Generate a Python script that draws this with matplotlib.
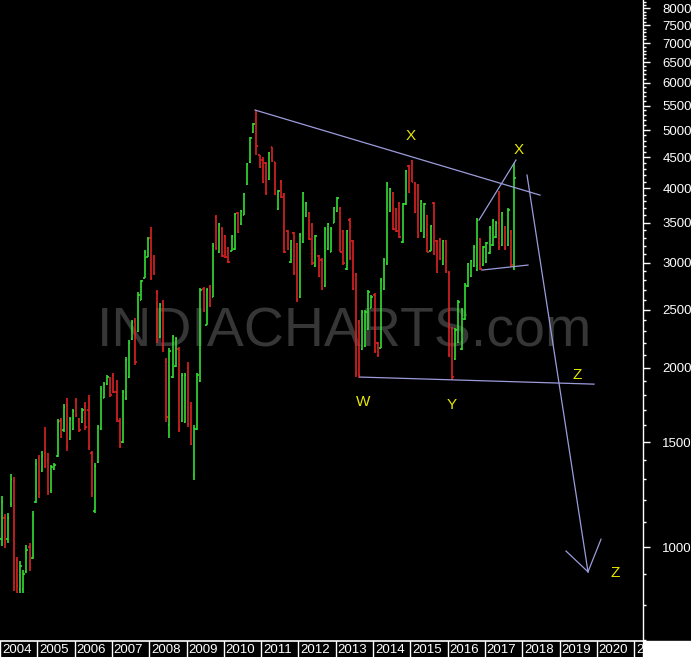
'''
Monthly OHLC bar chart with hand-drawn pattern annotations (log scale).
'''

import matplotlib

matplotlib.use("Agg")
import matplotlib.pyplot as plt
import numpy as np
from matplotlib.patches import Rectangle
from matplotlib.ticker import FixedLocator, FuncFormatter, NullFormatter

plt.rcParams["font.family"] = ["Liberation Sans", "DejaVu Sans"]

START_YEAR = 2004

# monthly bars from Jan 2004
BAR_HIGH = [
    1218, 1136, 1140, 1325, 1310, 962, 947, 915, 1008, 1016,
    1150, 1404, 1427, 1448, 1590, 1440, 1373, 1384, 1640, 1646,
    1738, 1775, 1652, 1704, 1775, 1646, 1711, 1750, 1799, 1450,
    1384, 1602, 1862, 1891, 1940, 1930, 1958, 1906, 1646, 1834,
    2080, 2225, 2403, 2420, 2677, 2805, 3150, 3310, 3440, 3090,
    2699, 2567, 2597, 2075, 2155, 2268, 2250, 2165, 1958, 1958,
    2044, 1750, 1602, 1958, 2720, 2730, 2720, 2752, 3235, 3606,
    3500, 3440, 3338, 3187, 3338, 3636, 3650, 3677, 3927, 4408,
    4874, 5145, 5410, 4547, 4500, 4430, 4600, 4690, 4430, 3972,
    4128, 3927, 3403, 3274, 3380, 3240, 3365, 3942, 3793, 3650,
    3490, 3338, 3090, 3048, 3440, 3500, 3440, 3720, 3865, 3720,
    3403, 3403, 3565, 3274, 2882, 2403, 2498, 2498, 2699, 2647,
    2668, 2208, 2826, 3048, 4090, 4000, 3942, 3706, 3793, 3780,
    4291, 4374, 4460, 4090, 4070, 3821, 3780, 3606, 3470, 3793,
    3274, 3300, 3274, 3274, 2900, 2335, 2330, 2600, 2520, 2770,
    3000, 3030, 3210, 3560, 3300, 3200, 3250, 3450, 3550, 3520,
    3950, 3650, 3450, 3700, 3400, 4400,
]
BAR_LOW = [
    1004, 996, 1016, 1167, 844, 838, 838, 838, 904, 911,
    955, 1185, 1208, 1336, 1357, 1223, 1232, 1347, 1416, 1524,
    1560, 1450, 1512, 1572, 1652, 1560, 1614, 1572, 1455, 1213,
    1140, 1384, 1572, 1777, 1869, 1786, 1811, 1620, 1466, 1494,
    1764, 1921, 2225, 2020, 2295, 2597, 2826, 3060, 2805, 2860,
    2200, 2243, 2120, 1620, 1524, 1921, 2005, 1560, 1620, 1614,
    1590, 1483, 1296, 1572, 1891, 2479, 2357, 2527, 2627, 3150,
    3115, 3060, 3048, 2997, 3131, 3150, 3365, 3470, 3606, 4049,
    4408, 4950, 4547, 4325, 4080, 3896, 4128, 4430, 3896, 3677,
    3850, 3115, 3150, 2997, 2860, 2577, 2617, 3240, 3578, 3274,
    2973, 2950, 2838, 2699, 2730, 3150, 3120, 3490, 3650, 3120,
    2973, 2916, 3031, 2699, 1930, 1921, 2140, 2165, 2312, 2518,
    2115, 2085, 2155, 2699, 2973, 3650, 3403, 3380, 3300, 3240,
    3748, 3927, 4090, 3636, 3300, 3380, 3300, 3120, 3131, 3090,
    2882, 3031, 2973, 2882, 2085, 1906, 2060, 2200, 2140, 2400,
    2730, 2840, 2950, 2900, 2910, 2960, 3000, 3100, 3200, 3300,
    3150, 3200, 3150, 3200, 2950, 2920,
]
BAR_OPEN = [
    1030, 1120, 1030, 1180, 1290, 950, 850, 850, 910, 1000,
    960, 1190, 1410, 1340, 1440, 1400, 1240, 1350, 1420, 1630,
    1570, 1730, 1520, 1580, 1760, 1640, 1620, 1720, 1700, 1440,
    1150, 1390, 1580, 1780, 1875, 1920, 1940, 1820, 1630, 1500,
    1780, 1930, 2230, 2390, 2300, 2600, 2830, 3070, 3300, 3060,
    2680, 2250, 2560, 2050, 1600, 1930, 2010, 2150, 1630, 1620,
    2000, 1720, 1320, 1580, 1900, 2710, 2360, 2740, 2630, 3580,
    3130, 3420, 3320, 3170, 3140, 3160, 3630, 3480, 3610, 4060,
    4420, 4960, 5200, 4540, 4450, 4400, 4140, 4680, 4420, 3690,
    4100, 3900, 3390, 3010, 3360, 3220, 2630, 3250, 3590, 3630,
    3470, 2960, 3080, 3030, 2740, 3160, 3130, 3500, 3660, 3700,
    3390, 2930, 3540, 3260, 2870, 2380, 2150, 2170, 2320, 2520,
    2650, 2200, 2160, 2710, 2990, 3660, 3920, 3690, 3780, 3250,
    3760, 4350, 4440, 4070, 4050, 3390, 3310, 3590, 3140, 3770,
    3260, 3290, 2980, 3260, 2880, 2320, 2070, 2210, 2150, 2410,
    2740, 2850, 2960, 2920, 3280, 2970, 3010, 3110, 3210, 3310,
    3500, 3210, 3430, 3210, 3380, 2940,
]
BAR_CLOSE = [
    1190, 1020, 1120, 1300, 870, 860, 930, 900, 990, 925,
    1130, 1380, 1230, 1420, 1370, 1240, 1360, 1375, 1620, 1530,
    1720, 1470, 1640, 1690, 1665, 1570, 1700, 1590, 1470, 1230,
    1370, 1590, 1840, 1880, 1930, 1800, 1820, 1640, 1480, 1820,
    2060, 2200, 2380, 2040, 2650, 2790, 3120, 3290, 2830, 2880,
    2230, 2550, 2140, 1650, 2130, 2250, 2230, 1580, 1940, 1940,
    1610, 1490, 1580, 1940, 2700, 2500, 2700, 2540, 3200, 3170,
    3480, 3080, 3060, 3010, 3320, 3620, 3380, 3660, 3910, 4390,
    4850, 5130, 4700, 4340, 4100, 3920, 4580, 4440, 3910, 3950,
    3860, 3130, 3160, 3260, 2880, 2600, 3340, 3920, 3780, 3290,
    2990, 3320, 2850, 2710, 3420, 3480, 3420, 3700, 3850, 3130,
    2990, 3390, 3050, 2710, 1960, 1940, 2480, 2480, 2680, 2630,
    2130, 2100, 2800, 3030, 4060, 3980, 3420, 3390, 3310, 3760,
    4270, 3940, 4100, 3650, 3320, 3800, 3760, 3130, 3450, 3100,
    2890, 3040, 3260, 2900, 2100, 1930, 2310, 2580, 2500, 2750,
    2980, 3020, 3190, 3540, 2930, 3180, 3230, 3430, 3530, 3500,
    3180, 3630, 3170, 3680, 2970, 4150,
]

# annotation lines, (year, price) pairs
TREND_LINES = [
    [(2010.836, 5405), (2018.477, 3892)],
    [(2013.651, 1928), (2019.925, 1876)],
    [(2016.842, 3534), (2017.834, 4456)],
    [(2016.922, 2914), (2018.155, 2971)],
    [(2018.129, 4205), (2019.764, 909)],
    [(2019.174, 985), (2019.764, 909)],
    [(2019.764, 909), (2020.113, 1031)],
]
WAVE_LABELS = ["X", "X", "W", "Y", "Z", "Z"]
WAVE_POS = [
    (2015.02, 4890), (2017.91, 4630), (2013.73, 1750),
    (2016.12, 1730), (2019.47, 1943), (2020.49, 905),
]

MAJOR_TICKS = [1000, 1500, 2000, 2500, 3000, 3500, 4000, 4500,
               5000, 5500, 6000, 6500, 7000, 7500, 8000]
YEARS = list(range(2004, 2022))

GREEN = "#33dd33"
RED = "#dd2222"
LINE = "#9c9cdc"
YELLOW = "#e8e800"

W, H = 691, 657
PLOT_W, STRIP_H = 643, 16
X0, X1 = 2004.0, 2004.0 + PLOT_W / 37.3
Y0, Y1 = 696, 8265


def draw_bars(ax):
    n = len(BAR_HIGH)
    t = START_YEAR + (np.arange(n) + 0.5) / 12
    hi, lo = np.array(BAR_HIGH), np.array(BAR_LOW)
    op, cl = np.array(BAR_OPEN), np.array(BAR_CLOSE)
    colors = np.where(cl >= op, GREEN, RED)
    tick = 0.035
    ax.vlines(t, lo, hi, colors=colors, linewidth=1.2, zorder=3)
    ax.hlines(op, t - tick, t, colors=colors, linewidth=1.2, zorder=3)
    ax.hlines(cl, t, t + tick, colors=colors, linewidth=1.2, zorder=3)


def main():
    fig = plt.figure(figsize=(W / 100, H / 100), dpi=100, facecolor="black")
    ax = fig.add_axes([0, STRIP_H / H, PLOT_W / W, (H - STRIP_H) / H])
    ax.set_facecolor("black")
    ax.set_yscale("log")
    ax.set_xlim(X0, X1)
    ax.set_ylim(Y0, Y1)

    ax.text(0.536, 0.482, "INDIACHARTS.com", transform=ax.transAxes,
            ha="center", va="center", fontsize=40, color="#363636", zorder=0)

    draw_bars(ax)

    for line in TREND_LINES:
        xs, ys = zip(*line)
        ax.plot(xs, ys, color=LINE, linewidth=0.9, zorder=4)
    for label, (x, y) in zip(WAVE_LABELS, WAVE_POS):
        ax.text(x, y, label, color=YELLOW, fontsize=11, ha="center",
                va="center", zorder=5)

    for side in ["top", "left", "bottom"]:
        ax.spines[side].set_visible(False)
    ax.spines["right"].set_color("white")
    ax.spines["right"].set_linewidth(1.0)
    ax.set_xticks([])
    ax.yaxis.tick_right()
    ax.yaxis.set_major_locator(FixedLocator(MAJOR_TICKS))
    ax.yaxis.set_major_formatter(FuncFormatter(lambda v, _: f"{v:.0f}"))
    minors = [v for v in range(700, 8300, 100) if v not in MAJOR_TICKS]
    ax.yaxis.set_minor_locator(FixedLocator(minors))
    ax.yaxis.set_minor_formatter(NullFormatter())
    ax.tick_params(axis="y", which="major", direction="out", length=5,
                   width=1, color="white", labelcolor="white",
                   labelsize=9.5, pad=9)
    ax.tick_params(axis="y", which="minor", direction="out", length=2.5,
                   width=1, color="white")

    # year strip along the bottom
    axb = fig.add_axes([0, 0, PLOT_W / W, STRIP_H / H])
    axb.set_facecolor("black")
    axb.set_xlim(X0, X1)
    axb.set_ylim(0, 1)
    axb.axis("off")
    axb.axhline(1, color="white", linewidth=1.2, clip_on=False)
    for yr in YEARS:
        axb.axvline(yr, color="white", linewidth=1.0)
        axb.text(yr + 0.05, 0.45, str(yr), color="white", fontsize=9.5,
                 ha="left", va="center", clip_on=True)

    fig.add_artist(Rectangle((PLOT_W / W, 0), 1 - PLOT_W / W, STRIP_H / H,
                             transform=fig.transFigure, color="white"))

    fig.savefig("out.png", dpi=100, facecolor="black")


if __name__ == "__main__":
    main()
